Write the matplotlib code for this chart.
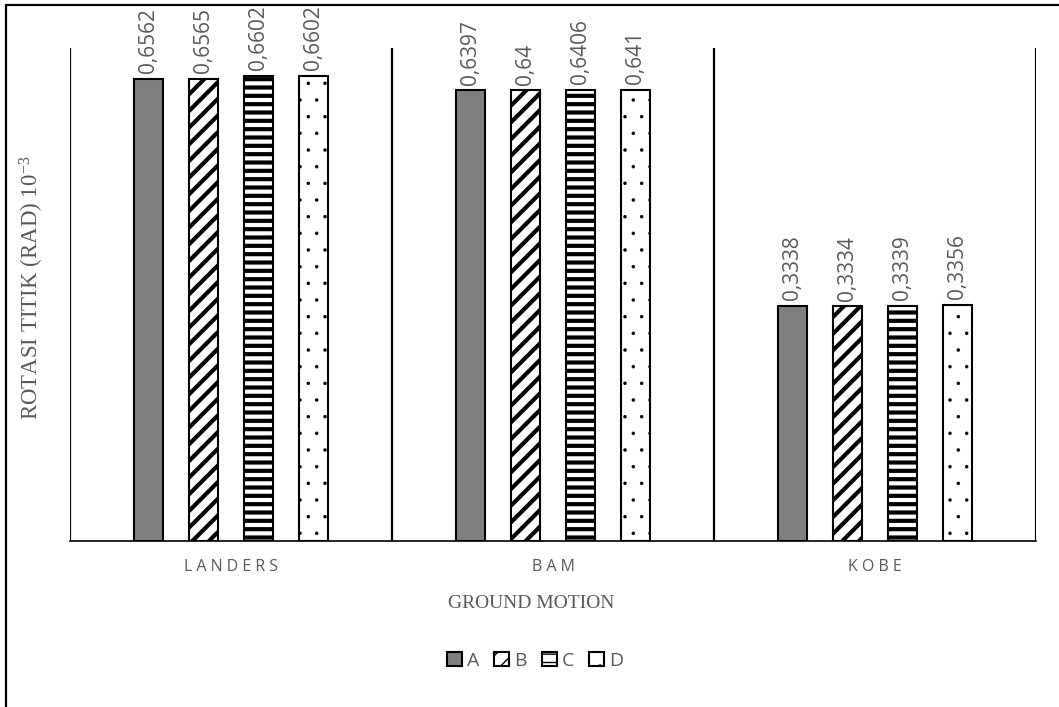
import matplotlib
matplotlib.use("Agg")
import matplotlib.pyplot as plt
from matplotlib.patches import Rectangle, Patch
import numpy as np

categories = ["LANDERS", "BAM", "KOBE"]
series_names = ["A", "B", "C", "D"]
values = {
    "A": [0.6562, 0.6397, 0.3338],
    "B": [0.6565, 0.6400, 0.3334],
    "C": [0.6602, 0.6406, 0.3339],
    "D": [0.6602, 0.6410, 0.3356],
}
labels = {
    "A": ["0,6562", "0,6397", "0,3338"],
    "B": ["0,6565", "0,64", "0,3334"],
    "C": ["0,6602", "0,6406", "0,3339"],
    "D": ["0,6602", "0,641", "0,3356"],
}

styles = {
    "A": dict(facecolor="#7f7f7f", hatch=None, hlw=1.0),
    "B": dict(facecolor="white", hatch="//", hlw=3.0),
    "C": dict(facecolor="white", hatch="--", hlw=3.0),
    "D": dict(facecolor="white", hatch=".", hlw=0.1),
}

plt.rcParams["mathtext.fontset"] = "custom"
plt.rcParams["mathtext.rm"] = "Liberation Serif"
plt.rcParams["mathtext.it"] = "Liberation Serif:italic"

gray = "#595959"
W, H = 1059, 707
fig = plt.figure(figsize=(W / 100, H / 100), dpi=100)
ax = fig.add_axes([70 / W, 1 - 541 / H, (1036 - 70) / W, (541 - 48) / H])

x = np.arange(len(categories))
step = 0.171
bw = 0.09
legend_handles = []
for i, s in enumerate(series_names):
    st = styles[s]
    with plt.rc_context({"hatch.linewidth": st["hlw"], "hatch.color": "black"}):
        bars = ax.bar(x + (i - 1.5) * step, values[s], width=bw,
                      facecolor=st["facecolor"], edgecolor="black",
                      linewidth=1.5, hatch=st["hatch"], zorder=3)
        for b in bars:
            if hasattr(b, "set_hatch_linewidth"):
                b.set_hatch_linewidth(st["hlw"])
        h = Patch(facecolor=st["facecolor"], edgecolor="black", linewidth=1.5,
                  hatch=st["hatch"])
        if hasattr(h, "set_hatch_linewidth"):
            h.set_hatch_linewidth(st["hlw"])
    legend_handles.append(h)
    for b, lab in zip(bars, labels[s]):
        ax.annotate(lab, (b.get_x() + b.get_width() / 2, b.get_height()),
                    xytext=(0, 4), textcoords="offset points",
                    rotation=90, ha="center", va="bottom",
                    color=gray, fontsize=15, family="Open Sans")

ax.set_xlim(-0.5, 2.5)
ax.set_ylim(0, 0.70)
for xv in [-0.5, 0.5, 1.5, 2.5]:
    ax.axvline(xv, ymin=0, ymax=1, color="black", linewidth=1.6, zorder=2)

for sp in ["top", "right", "left"]:
    ax.spines[sp].set_visible(False)
ax.spines["bottom"].set_linewidth(1.2)
ax.set_yticks([])
ax.set_xticks(x)
ax.set_xticklabels([" ".join(c) for c in categories], color=gray,
                   fontsize=11.5, family="Open Sans")
ax.tick_params(axis="x", length=0, pad=13)

fig.text(531 / W, 1 - 604 / H, "GROUND MOTION", ha="center",
         va="center", color=gray, fontsize=14, family="Liberation Serif")
fig.text(32 / W, 1 - 288 / H, r"ROTASI TITIK (RAD) 10$^{\mathrm{-3}}$",
         ha="center", va="center", rotation=90, color=gray, fontsize=16.5,
         family="Liberation Serif")

fig.legend(legend_handles, series_names, loc="center",
           bbox_to_anchor=(535 / W, 1 - 661 / H), ncol=4, frameon=False,
           handlelength=0.75, handleheight=0.75, handletextpad=0.25,
           columnspacing=0.8, prop={"family": "Open Sans", "size": 14},
           labelcolor=gray)

border = Rectangle((6 / W, -0.1), 1.2, 1 - 5 / H + 0.1,
                   transform=fig.transFigure, fill=False,
                   edgecolor="black", linewidth=1.6, clip_on=False)
fig.add_artist(border)

fig.savefig("out.png", dpi=100)
